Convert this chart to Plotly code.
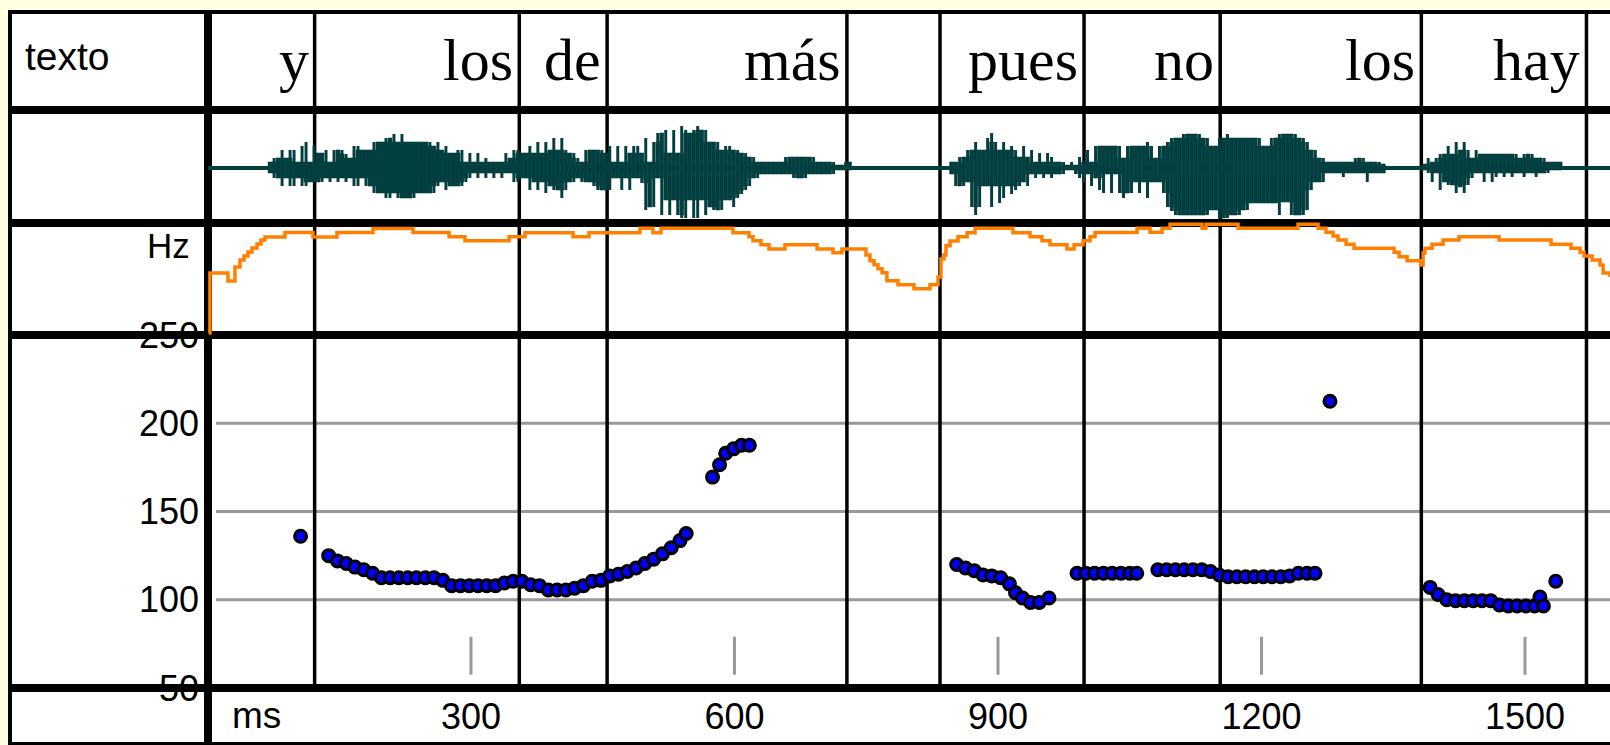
import plotly.graph_objects as go

W, H = 1610, 745
LEFT = 208  # px where the time axis (0 ms) starts

# ---- word tier (ms) ----
words = ["y", "los", "de", "más", "pues", "no", "los", "hay"]
word_start = [0, 122, 355, 455, 834, 998, 1153, 1382]
word_end = [122, 355, 455, 728, 998, 1153, 1382, 1570]

# ---- waveform: amplitude columns (up / down from zero), one column per 4.55 ms ----
wave_step = 4.55
wave_a_start = 69
wave_a_hi = [6, 10, 10, 18, 10, 18, 18, 6, 22, 26, 6, 22, 15, 15, 18, 6, 18, 18, 18, 14,
             10, 22, 22, 18, 18, 18, 26, 26, 26, 30, 30, 34, 26, 34, 26, 26, 26, 26, 26, 26,
             26, 22, 26, 18, 22, 15, 15, 18, 18, 6, 15, 6, 15, 6, 10, 6, 6, 6, 6, 15,
             10, 18, 18, 15, 15, 22, 15, 26, 15, 26, 18, 30, 18, 30, 18, 15, 15, 10, 6, 18,
             18, 18, 18, 18, 15,
             22, 6, 22, 6, 22, 15, 22, 22, 15, 30, 6, 26, 35, 35, 38, 15, 38, 15, 42, 38,
             35, 38, 42, 38, 38, 26, 26, 26, 18, 22, 22, 18, 18, 15, 15, 11, 11, 6,
             6, 6, 6, 6, 6, 6, 11, 11, 11, 11, 11, 11, 11, 11, 6, 6, 6, 6, 6, 3, 3, 6, 6]
wave_a_lo = [5, 10, 10, 18, 10, 18, 18, 10, 18, 18, 14, 14, 14, 14, 10, 14, 10, 14, 10, 14,
             10, 18, 18, 10, 18, 18, 25, 25, 25, 30, 30, 25, 30, 30, 30, 30, 30, 25, 25, 25,
             25, 25, 18, 14, 22, 18, 18, 18, 18, 14, 10, 5, 10, 5, 10, 5, 10, 5, 10, 5,
             5, 14, 14, 10, 10, 22, 14, 22, 14, 25, 18, 22, 22, 30, 22, 14, 14, 10, 14, 14,
             14, 18, 22, 22, 22,
             22, 10, 10, 22, 10, 22, 10, 10, 15, 42, 39, 39, 10, 47, 32, 47, 32, 47, 50, 50,
             32, 50, 50, 32, 47, 39, 42, 42, 42, 32, 32, 39, 30, 26, 22, 18, 10, 10,
             6, 6, 6, 6, 6, 6, 6, 6, 10, 10, 10, 10, 6, 6, 6, 6, 6, 6, 6, 2, 2, 2, 2]
wave_b_start = 845
wave_b_hi = [6, 6, 11, 11, 18, 18, 26, 18, 18, 30, 35, 26, 18, 26, 18, 22, 18, 11, 22, 11,
             18, 6, 15, 6, 15, 11, 6, 6, 6, 3, 6, 3, 11, 6, 18, 6, 22,
             22, 22, 22, 22, 22, 22, 10, 22, 22, 22, 22, 22, 26, 22, 10, 22, 22, 26, 30, 30,
             30, 34, 34, 34, 34, 34, 30, 30, 22, 22, 30, 30, 34, 30, 30, 30, 30, 30, 30, 30,
             30, 22, 22, 30, 30, 34, 34, 34, 34, 34, 30, 30, 26, 18, 18, 10, 10, 6, 6, 6,
             6, 6, 6, 6, 10, 10, 10, 6, 6, 6, 6, 4]
wave_b_lo = [6, 18, 18, 18, 14, 39, 47, 39, 18, 18, 39, 18, 35, 30, 18, 26, 22, 18, 14, 18,
             6, 10, 6, 10, 6, 10, 6, 6, 6, 2, 2, 6, 10, 14, 6, 18, 10,
             22, 25, 6, 25, 6, 25, 30, 25, 25, 14, 25, 14, 30, 14, 14, 14, 25, 39, 43, 47,
             47, 47, 47, 47, 47, 47, 47, 47, 42, 42, 50, 50, 50, 47, 47, 47, 42, 42, 35, 35,
             35, 35, 35, 35, 35, 47, 34, 34, 47, 47, 47, 47, 42, 22, 14, 14, 14, 5, 5, 5,
             5, 9, 5, 5, 5, 5, 5, 14, 5, 5, 5, 5]
wave_c_start = 1383
wave_c_hi = [4, 10, 6, 10, 14, 14, 22, 14, 26, 18, 26, 18, 10, 18, 14, 14, 14, 14, 14, 14,
             14, 14, 14, 14, 10, 14, 14, 14, 10, 10, 10, 6, 6, 6, 6]
wave_c_lo = [2, 5, 14, 5, 22, 14, 17, 17, 25, 19, 25, 17, 10, 5, 5, 14, 5, 14, 9, 5,
             9, 5, 9, 5, 5, 9, 5, 5, 9, 5, 5, 5, 2, 2, 2]

# ---- intensity contour (ms, relative dB) ----
int_t = [1.4, 2.8, 23.3, 31.3, 37, 41.6, 46.1, 50.7, 56.4, 60.9,
         65.5, 88.2, 120.1, 147.4, 188.4, 234, 275, 293.2, 343.3, 361.5,
         416.2, 434.4, 492.4, 507.2, 516.3, 598.3, 616.5, 621.1, 630.2, 639.3,
         657.5, 694, 712.2, 722.4, 749.7, 754.3, 758.9, 763.4, 768, 773.6,
         786.2, 804.4, 822.6, 831.7, 835.1, 838.5, 840.8, 845.4, 854.5, 864.8,
         873.9, 917.1, 936.5, 950.1, 959.2, 978.6, 986.6, 996.9, 1004.8, 1010.5,
         1058.3, 1073.1, 1086.8, 1095.9, 1132.3, 1136.9, 1173.3, 1241.6, 1264.4, 1273.5,
         1281.5, 1287.2, 1296.3, 1305.4, 1351, 1356.7, 1365.8, 1381.7, 1384, 1386.2,
         1394.2, 1406.7, 1424.9, 1470.5, 1529.7, 1552.4, 1562.7, 1567.2, 1576.4, 1585.5,
         1589, 1596.8]
int_db = [-2, 58, 50, 64, 71, 75, 79, 83, 87, 91,
          94, 98.5, 94, 98.5, 102.5, 98.5, 94.3, 90.3, 94.3, 98.3,
          94.3, 98.3, 102.7, 98.3, 102.7, 98.3, 94.3, 90.3, 86.3, 82,
          86.3, 82, 78.3, 82, 76, 70.3, 66.3, 62.3, 58.3, 50.3,
          46.3, 42.3, 46.3, 54, 72, 76, 85.3, 90, 94.3, 98.3,
          102.7, 98.3, 94.3, 90.3, 86.3, 82, 86.3, 90.3, 94.3, 98.5,
          102.7, 98.7, 102.7, 106.7, 102.7, 106.7, 102.7, 106.7, 102.7, 98.7,
          95, 91, 86.7, 82.7, 78.7, 74.3, 70.3, 66, 78, 82.7,
          86.7, 91, 94.3, 91, 86.7, 82.7, 78.7, 75, 71, 66,
          58, 54]

# ---- F0 (ms, Hz) ----
f0_t = [106,
        138, 148, 158, 168, 178, 188, 198, 208, 218, 228, 238, 248, 258, 268, 278, 288, 298,
        308, 318, 328, 338, 348, 358, 368, 378, 388, 398, 408, 418, 428, 438, 448, 458, 468,
        478, 488, 498, 508, 518, 528, 538, 545,
        575, 583, 590, 599, 608, 617,
        853, 863, 873, 883, 893, 903, 913, 920, 928, 937, 947, 958,
        990, 1000, 1010, 1020, 1030, 1040, 1050, 1058,
        1082, 1092, 1102, 1112, 1122, 1132, 1142, 1152, 1162, 1172, 1182, 1192, 1202, 1212,
        1222, 1232, 1242, 1252, 1261,
        1278,
        1392, 1401, 1411, 1421, 1431, 1441, 1451, 1461, 1471, 1481, 1491, 1501, 1511, 1517,
        1521, 1535]
f0_hz = [136,
         125, 122, 120.5, 118.5, 117, 115, 112.5, 112.5, 112.5, 112.5, 112.5, 112.5, 112.5, 111,
         108, 108, 108, 108, 108, 108, 109.5, 110.5, 110.5, 108.5, 108, 105.5, 105.5, 105.5,
         106.5, 108, 110.5, 111, 113.5, 114.5, 116, 118, 120.5, 123, 126, 129.5, 133.5, 137.5,
         169.5, 176.5, 183, 185.5, 187.5, 187.5,
         120, 118, 116.5, 114, 113.5, 112.5, 109, 104, 101, 98.5, 98.5, 101,
         115, 115, 115, 115, 115, 115, 115, 115,
         117, 117, 117, 117, 117, 117, 116, 114, 113, 113, 113, 113, 113, 113,
         113, 113.5, 115, 115, 115,
         212.5,
         107, 103, 100, 99.5, 99.5, 99.5, 99.5, 99.5, 97, 96.5, 96.5, 96.5, 96.5, 101.5,
         96.5, 110.5]

hz_ticks = [50, 100, 150, 200, 250]
hz_grid = [100, 150, 200]
ms_ticks = [300, 600, 900, 1200, 1500]

BG = '#ffffe1'
TEAL = '#033f3f'
ORANGE = '#ff8000'
GRAY = '#999999'
SANS = 'Liberation Sans, Arial, sans-serif'
SERIF = 'Liberation Serif, Times New Roman, serif'


def px_x(px):
    return (px - LEFT) / (W - LEFT)


def px_y(px):
    return 1 - px / H


# waveform columns -> spike bars (with a thin gap) over a solid core
spk_x, spk_base, spk_h = [], [], []
core_base, core_h = [], []
for start, hi, lo in [(wave_a_start, wave_a_hi, wave_a_lo),
                      (wave_b_start, wave_b_hi, wave_b_lo),
                      (wave_c_start, wave_c_hi, wave_c_lo)]:
    n = min(len(hi), len(lo))
    for i in range(n):
        spk_x.append(start + (i + 0.5) * wave_step)
        spk_base.append(-lo[i])
        spk_h.append(hi[i] + lo[i])
        nb = range(max(0, i - 1), min(n, i + 2))
        ch = min(hi[j] for j in nb)
        cl = min(lo[j] for j in nb)
        core_base.append(-cl)
        core_h.append(ch + cl)

fig = go.Figure()
fig.add_scatter(x=[0, 1600], y=[0, 0], xaxis='x', yaxis='y2', mode='lines',
                line=dict(color=TEAL, width=4))
fig.add_bar(x=spk_x, y=core_h, base=core_base, width=wave_step, xaxis='x', yaxis='y2',
            marker=dict(color=TEAL, line=dict(color=TEAL, width=0.6)))
fig.add_bar(x=spk_x, y=spk_h, base=spk_base, width=wave_step * 0.74, xaxis='x', yaxis='y2',
            marker=dict(color=TEAL, line=dict(width=0)))
fig.add_scatter(x=int_t, y=int_db, xaxis='x', yaxis='y3', mode='lines',
                line=dict(color=ORANGE, width=3.5, shape='hv'))
fig.add_scatter(x=f0_t, y=f0_hz, mode='markers',
                marker=dict(size=12, color='#0000ff', line=dict(color='black', width=3)))

shapes = []
# frame background and outer border
shapes.append(dict(type='rect', xref='paper', yref='paper', layer='below',
                   x0=px_x(10), x1=px_x(1625), y0=px_y(744), y1=px_y(12),
                   fillcolor='white', line=dict(color='black', width=4)))
# pitch grid lines
for hz in hz_grid:
    shapes.append(dict(type='line', xref='paper', yref='y', layer='below',
                       x0=px_x(216), x1=px_x(1625), y0=hz, y1=hz,
                       line=dict(color=GRAY, width=3)))
# time tick marks
for t in ms_ticks:
    shapes.append(dict(type='line', xref='x', yref='y', layer='below',
                       x0=t, x1=t, y0=57.5, y1=79, line=dict(color=GRAY, width=3)))
# word boundaries
for t in sorted(set(word_start[1:] + word_end)):
    shapes.append(dict(type='line', xref='x', yref='paper', layer='below',
                       x0=t, x1=t, y0=px_y(688), y1=px_y(12),
                       line=dict(color='black', width=3.5)))
# tier separators
for ypx in [110, 223, 335, 688]:
    shapes.append(dict(type='line', xref='paper', yref='paper', layer='below',
                       x0=px_x(10), x1=px_x(1625), y0=px_y(ypx), y1=px_y(ypx),
                       line=dict(color='black', width=8)))
shapes.append(dict(type='line', xref='paper', yref='paper', layer='below',
                   x0=0, x1=0, y0=px_y(744), y1=px_y(12),
                   line=dict(color='black', width=8)))

annotations = []
for w, t in zip(words, word_end):
    annotations.append(dict(text=w, x=t, xref='x', y=px_y(60), yref='paper',
                            xanchor='right', yanchor='middle', xshift=-4, showarrow=False,
                            font=dict(family=SERIF, size=60, color='black')))
for txt, xpx, ypx, anchor, size in [('texto', 23, 57, 'left', 39),
                                    ('Hz', 192, 245.5, 'right', 35),
                                    ('ms', 230, 715, 'left', 37)]:
    annotations.append(dict(text=txt, x=px_x(xpx), y=px_y(ypx), xref='paper', yref='paper',
                            xanchor=anchor, yanchor='middle', showarrow=False,
                            font=dict(family=SANS, size=size, color='black')))

fig.update_layout(
    template='none',
    width=W, height=H,
    margin=dict(l=LEFT, r=0, t=0, b=0),
    paper_bgcolor=BG,
    plot_bgcolor='rgba(0,0,0,0)',
    showlegend=False,
    barmode='overlay',
    shapes=shapes,
    annotations=annotations,
    xaxis=dict(domain=[0, 1], range=[0.6, 1596.8], anchor='y', showgrid=False,
               zeroline=False, showline=False, ticks='', tickvals=ms_ticks,
               tickfont=dict(family=SANS, size=36, color='black'),
               ticklabelstandoff=4, automargin=False),
    yaxis=dict(domain=[px_y(688), px_y(335)], range=[50, 250], anchor='x',
               showgrid=False, zeroline=False, showline=False, ticks='',
               tickvals=hz_ticks, tickfont=dict(family=SANS, size=36, color='black'),
               ticklabelstandoff=8, automargin=False),
    yaxis2=dict(domain=[px_y(219), px_y(114)], range=[-51, 54], anchor='x',
                visible=False),
    yaxis3=dict(domain=[px_y(339), px_y(219)], range=[-8, 112], anchor='x',
                visible=False),
)

# the page's default 8px body margin would shift the figure; remove it
page_fix = ("document.body.style.margin='0';document.body.style.background='%s';"
            "document.body.style.overflow='hidden';"
            "document.documentElement.style.overflow='hidden';" % BG)
fig.write_html("out.html", post_script=page_fix, config={'displayModeBar': False})
